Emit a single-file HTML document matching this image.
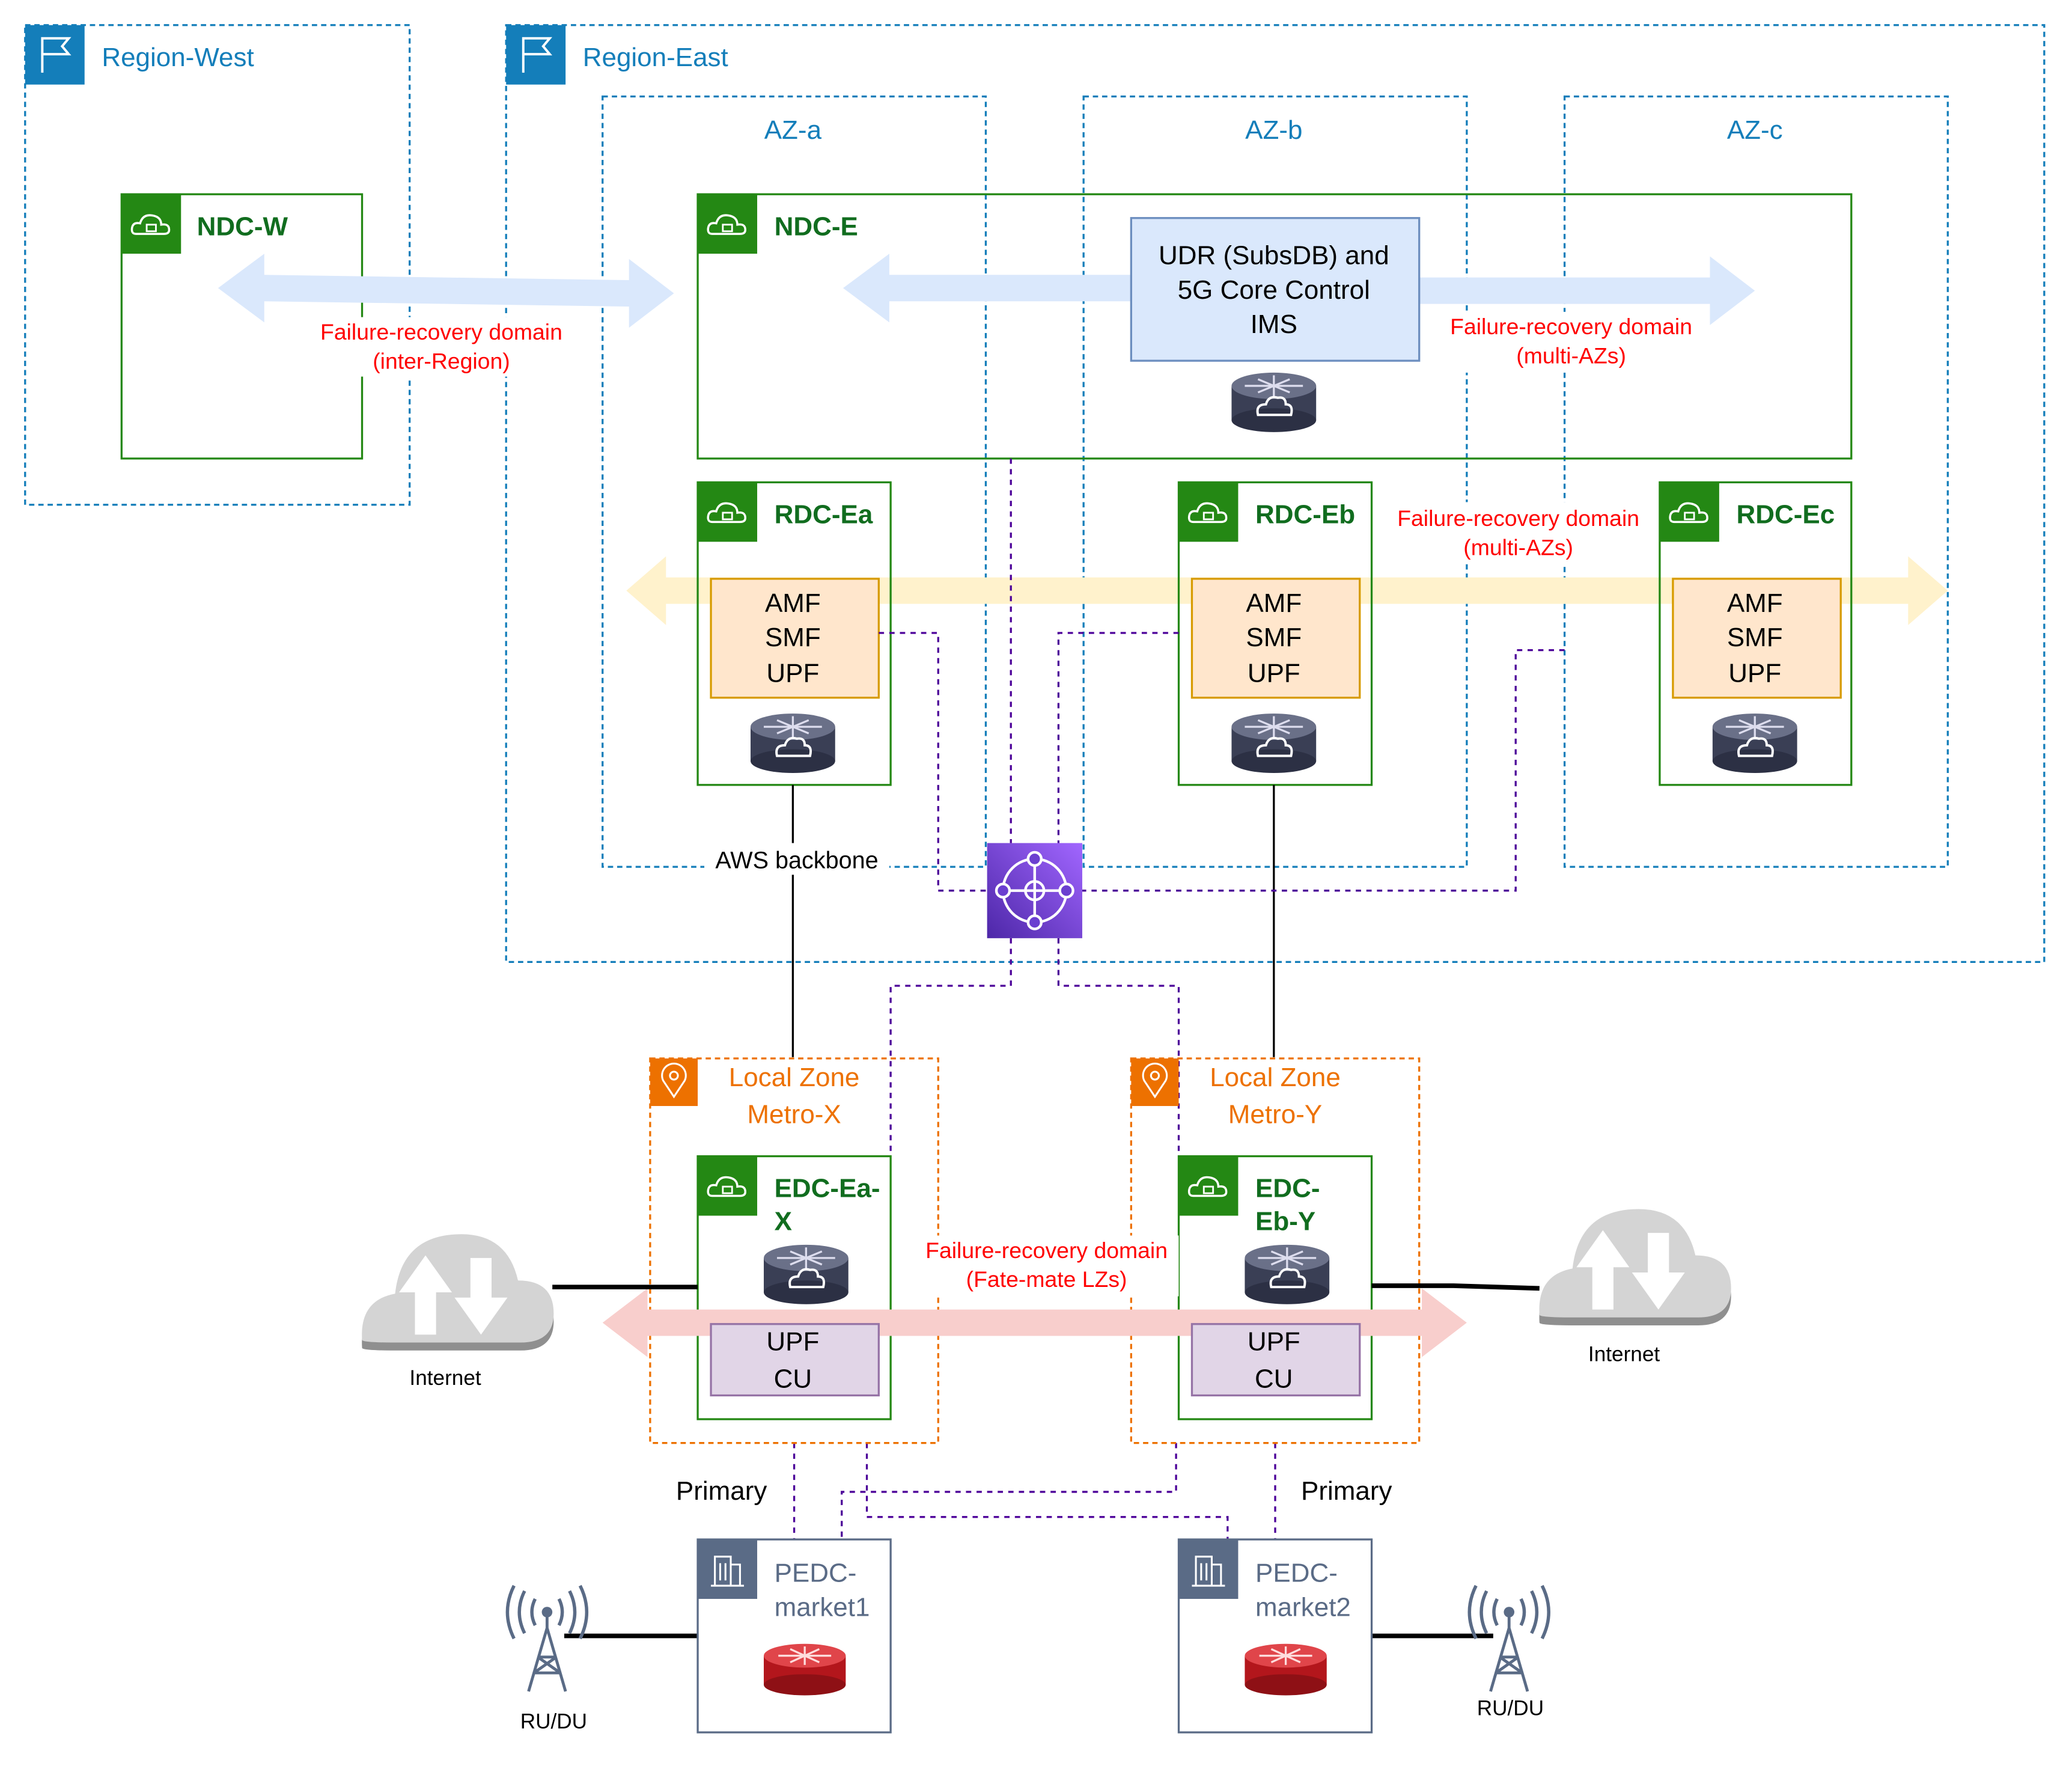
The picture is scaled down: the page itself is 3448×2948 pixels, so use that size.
<!DOCTYPE html>
<html><head><meta charset="utf-8"><style>
html,body{margin:0;padding:0;background:#fff}
svg{display:block}
text{font-family:"Liberation Sans",sans-serif}
</style></head><body>
<svg width="3448" height="2948" viewBox="0 0 1568 1341" preserveAspectRatio="none" xmlns="http://www.w3.org/2000/svg">
<defs>
<g id="router">
<rect x="-32" y="-8" width="64" height="26" fill="#3a3f55"/>
<ellipse cx="0" cy="18" rx="32" ry="9" fill="#2c3044"/>
<ellipse cx="0" cy="-8" rx="32" ry="10" fill="#6a7088"/>
<path d="M-22 -8 H22 M0 -16 V0 M-12 -13 L12 -3 M12 -13 L-12 -3" stroke="#dde" stroke-width="1.5"/>
<path d="M-12 14 Q-14 6 -6 6 Q-4 -1 3 1 Q9 0 9 6 Q15 6 13 14 Z" fill="none" stroke="#fff" stroke-width="1.8"/>
</g>
<g id="rrouter">
<rect x="-31" y="-7" width="62" height="22" fill="#b3161c"/>
<ellipse cx="0" cy="15" rx="31" ry="8" fill="#8e1015"/>
<ellipse cx="0" cy="-7" rx="31" ry="9" fill="#e0454a"/>
<path d="M-20 -7 H20 M0 -14 V0 M-11 -12 L11 -2 M11 -12 L-11 -2" stroke="#fdd" stroke-width="1.5"/>
</g>
<g id="cloudicon">
<rect width="45" height="45" fill="#248814"/>
<path d="M11 30 Q7 30 8 25 Q9 21 14 22 Q16 15 23 16 Q30 17 30 23 Q36 22 36 27 Q36 30 32 30 Z" fill="none" stroke="#fff" stroke-width="1.6"/>
<rect x="19" y="23" width="7" height="5" fill="none" stroke="#fff" stroke-width="1.3"/>
</g>
<g id="flag">
<rect width="45" height="45" fill="#147EBA"/>
<path d="M13 36 V10 H33 L28 16 L33 22 H13" fill="none" stroke="#fff" stroke-width="1.8"/>
</g>
<g id="icloud">
<path d="M0 90 Q-2 60 25 55 Q30 10 75 10 Q110 10 118 45 Q145 45 145 70 Q145 92 120 92 L25 92 Q0 92 0 90 Z" fill="#8f8f8f"/>
<path d="M0 84 Q-2 54 25 49 Q30 4 75 4 Q110 4 118 39 Q145 39 145 64 Q145 86 120 86 L25 86 Q0 86 0 84 Z" fill="#d4d4d4"/>
<path d="M48 20 L28 48 H40 V80 H56 V48 H68 Z M90 80 L110 52 H98 V22 H82 V52 H70 Z" fill="#fff"/>
</g>
<g id="tower">
<path d="M0 0 L-14 48 M0 0 L14 48 M-10 34 L10 34 M-7 22 L7 22 M-10 34 L7 22 M10 34 L-7 22 M0 0 V-10" stroke="#5a6b86" stroke-width="2.2" fill="none"/>
<circle cx="0" cy="-12" r="4" fill="#5a6b86"/>
<path d="M-9 -22 Q-14 -12 -9 -2 M9 -22 Q14 -12 9 -2 M-17 -28 Q-25 -12 -17 4 M17 -28 Q25 -12 17 4 M-25 -32 Q-35 -12 -25 8 M25 -32 Q35 -12 25 8" stroke="#5a6b86" stroke-width="2.5" fill="none"/>
</g>
</defs>

<rect x="19" y="19" width="291" height="363" fill="none" stroke="#147EBA" stroke-width="1.5" stroke-dasharray="4 3"/>
<use href="#flag" x="19" y="19"/>
<text x="77" y="50" font-size="20" fill="#147EBA">Region-West</text>
<rect x="383" y="19" width="1164" height="709" fill="none" stroke="#147EBA" stroke-width="1.5" stroke-dasharray="4 3"/>
<use href="#flag" x="383" y="19"/>
<text x="441" y="50" font-size="20" fill="#147EBA">Region-East</text>

<g fill="none" stroke="#147EBA" stroke-width="1.5" stroke-dasharray="4 3">
<rect x="456" y="73" width="290" height="583"/>
<rect x="820" y="73" width="290" height="583"/>
<rect x="1184" y="73" width="290" height="583"/>
</g>
<g font-size="20" fill="#147EBA" text-anchor="middle">
<text x="600" y="105">AZ-a</text><text x="964" y="105">AZ-b</text><text x="1328" y="105">AZ-c</text>
</g>

<path d="M474 447 L504 421 V437 H1444 V421 L1474 447 L1444 473 V457 H504 V473 Z" fill="#fff2cc"/>

<rect x="92" y="147" width="182" height="200" fill="none" stroke="#248814" stroke-width="1.5"/>
<use href="#cloudicon" x="92" y="147"/>
<text x="149" y="178" font-size="20" font-weight="bold" fill="#116D1F">NDC-W</text>

<rect x="528" y="147" width="873" height="200" fill="none" stroke="#248814" stroke-width="1.5"/>
<use href="#cloudicon" x="528" y="147"/>
<text x="586" y="178" font-size="20" font-weight="bold" fill="#116D1F">NDC-E</text>

<path d="M165 218 L200 192 V208 L476 212 V196 L510 222 L476 248 V232 L200 228 V244 Z" fill="#dae8fc"/>
<path d="M638 218 L673 192 V208 H856 V228 H673 V244 Z" fill="#dae8fc"/>
<path d="M1328 220 L1294 194 V210 H1074 V230 H1294 V246 Z" fill="#dae8fc"/>
<rect x="856" y="165" width="218" height="108" fill="#dae8fc" stroke="#6c8ebf" stroke-width="1.5"/>
<g font-size="20" text-anchor="middle" fill="#000">
<text x="964" y="200">UDR (SubsDB) and</text><text x="964" y="226">5G Core Control</text><text x="964" y="252">IMS</text>
</g>
<use href="#router" x="964" y="300"/>
<rect x="230" y="240" width="205" height="45" fill="#fff"/>
<rect x="1088" y="236" width="202" height="46" fill="#fff"/>
<g font-size="17" fill="#FF0000" text-anchor="middle">
<text x="334" y="257">Failure-recovery domain</text><text x="334" y="279">(inter-Region)</text>
<text x="1189" y="253">Failure-recovery domain</text><text x="1189" y="275">(multi-AZs)</text>
</g>

<g fill="none" stroke="#248814" stroke-width="1.5">
<rect x="528" y="365" width="146" height="229"/>
<rect x="892" y="365" width="146" height="229"/>
<rect x="1256" y="365" width="145" height="229"/>
</g>
<use href="#cloudicon" x="528" y="365"/><use href="#cloudicon" x="892" y="365"/><use href="#cloudicon" x="1256" y="365"/>
<g font-size="20" font-weight="bold" fill="#116D1F">
<text x="586" y="396">RDC-Ea</text><text x="950" y="396">RDC-Eb</text><text x="1314" y="396">RDC-Ec</text>
</g>
<rect x="1048" y="380" width="202" height="46" fill="#fff"/>
<g font-size="17" fill="#FF0000" text-anchor="middle">
<text x="1149" y="398">Failure-recovery domain</text><text x="1149" y="420">(multi-AZs)</text>
</g>
<g fill="#ffe6cc" stroke="#d79b00" stroke-width="1.5">
<rect x="538" y="438" width="127" height="90"/><rect x="902" y="438" width="127" height="90"/><rect x="1266" y="438" width="127" height="90"/>
</g>
<g font-size="20" text-anchor="middle">
<text x="600" y="463">AMF</text><text x="600" y="489">SMF</text><text x="600" y="516">UPF</text>
<text x="964" y="463">AMF</text><text x="964" y="489">SMF</text><text x="964" y="516">UPF</text>
<text x="1328" y="463">AMF</text><text x="1328" y="489">SMF</text><text x="1328" y="516">UPF</text>
</g>
<use href="#router" x="600" y="558"/><use href="#router" x="964" y="558"/><use href="#router" x="1328" y="558"/>

<path d="M600 594 V800 M964 594 V800" stroke="#000" stroke-width="1.5"/>
<rect x="533" y="638" width="140" height="24" fill="#fff"/>
<text x="603" y="657" font-size="18" text-anchor="middle">AWS backbone</text>

<g fill="none" stroke="#4C0099" stroke-width="1.5" stroke-dasharray="4 4">
<path d="M765 347 V638"/>
<path d="M665 479 H710 V674 H747"/>
<path d="M892 479 H801 V638"/>
<path d="M1184 492 H1147 V674 H819"/>
<path d="M765 710 V746 H674 V875"/>
<path d="M801 710 V746 H892 V875"/>
<path d="M601 1092 V1165"/>
<path d="M656 1092 V1148 H929 V1165"/>
<path d="M890 1092 V1129 H637 V1165"/>
<path d="M965 1092 V1165"/>
</g>

<defs><linearGradient id="tg" x1="0" y1="1" x2="1" y2="0"><stop offset="0" stop-color="#4d27a8"/><stop offset="1" stop-color="#a166ff"/></linearGradient></defs>
<rect x="747" y="638" width="72" height="72" fill="url(#tg)"/>
<g fill="none" stroke="#fff" stroke-width="2">
<circle cx="783" cy="674" r="24"/><circle cx="783" cy="674" r="7"/>
<path d="M759 674 H807 M783 650 V698"/>
</g>
<g fill="#6b3fd0" stroke="#fff" stroke-width="2">
<circle cx="759" cy="674" r="5"/><circle cx="807" cy="674" r="5"/><circle cx="783" cy="650" r="5"/><circle cx="783" cy="698" r="5"/>
</g>

<g fill="none" stroke="#ED7100" stroke-width="1.5" stroke-dasharray="4 3">
<rect x="492" y="801" width="218" height="291"/><rect x="856" y="801" width="218" height="291"/>
</g>
<rect x="492" y="801" width="36" height="36" fill="#ED7100"/><rect x="856" y="801" width="36" height="36" fill="#ED7100"/>
<g fill="none" stroke="#fff" stroke-width="1.4">
<path d="M510 830 L502 818 A9 9 0 1 1 518 818 Z"/><circle cx="510" cy="814" r="3"/>
<path d="M874 830 L866 818 A9 9 0 1 1 882 818 Z"/><circle cx="874" cy="814" r="3"/>
</g>
<g font-size="20" fill="#ED7100" text-anchor="middle">
<text x="601" y="822">Local Zone</text><text x="601" y="850">Metro-X</text>
<text x="965" y="822">Local Zone</text><text x="965" y="850">Metro-Y</text>
</g>

<rect x="528" y="875" width="146" height="199" fill="#fff" stroke="#248814" stroke-width="1.5"/>
<rect x="892" y="875" width="146" height="199" fill="#fff" stroke="#248814" stroke-width="1.5"/>
<use href="#cloudicon" x="528" y="875"/><use href="#cloudicon" x="892" y="875"/>
<g font-size="20" font-weight="bold" fill="#116D1F">
<text x="586" y="906">EDC-Ea-</text><text x="586" y="931">X</text>
<text x="950" y="906">EDC-</text><text x="950" y="931">Eb-Y</text>
</g>
<use href="#router" x="610" y="960"/><use href="#router" x="974" y="960"/>
<path d="M456 1001 L490 975 V991 H1076 V975 L1110 1001 L1076 1027 V1011 H490 V1027 Z" fill="#f8cecc"/>
<rect x="538" y="1002" width="127" height="54" fill="#e1d5e7" stroke="#9673a6" stroke-width="1.5"/>
<rect x="902" y="1002" width="127" height="54" fill="#e1d5e7" stroke="#9673a6" stroke-width="1.5"/>
<g font-size="20" text-anchor="middle">
<text x="600" y="1022">UPF</text><text x="600" y="1050">CU</text>
<text x="964" y="1022">UPF</text><text x="964" y="1050">CU</text>
</g>
<rect x="692" y="935" width="200" height="46" fill="#fff"/>
<g font-size="17" fill="#FF0000" text-anchor="middle">
<text x="792" y="952">Failure-recovery domain</text><text x="792" y="974">(Fate-mate LZs)</text>
</g>

<path d="M418 974 H528 M1038 973 H1100 L1165 975" stroke="#000" stroke-width="3.5" fill="none"/>
<use href="#icloud" x="274" y="930"/>
<use href="#icloud" x="1165" y="911"/>
<text x="337" y="1048" font-size="16" text-anchor="middle">Internet</text>
<text x="1229" y="1030" font-size="16" text-anchor="middle">Internet</text>

<text x="546" y="1135" font-size="20" text-anchor="middle">Primary</text>
<text x="1019" y="1135" font-size="20" text-anchor="middle">Primary</text>

<path d="M427 1238 H528 M1038 1238 H1130" stroke="#000" stroke-width="3.5"/>
<rect x="528" y="1165" width="146" height="146" fill="#fff" stroke="#5a6b86" stroke-width="1.5"/>
<rect x="892" y="1165" width="146" height="146" fill="#fff" stroke="#5a6b86" stroke-width="1.5"/>
<rect x="528" y="1165" width="45" height="45" fill="#5a6b86"/><rect x="892" y="1165" width="45" height="45" fill="#5a6b86"/>
<g fill="none" stroke="#fff" stroke-width="1.4">
<path d="M541 1200 V1178 H553 V1200 M553 1184 H560 V1200 M538 1200 H563 M545 1183 V1196 M549 1183 V1196"/>
<path d="M905 1200 V1178 H917 V1200 M917 1184 H924 V1200 M902 1200 H927 M909 1183 V1196 M913 1183 V1196"/>
</g>
<g font-size="20" fill="#5a6b86">
<text x="586" y="1197">PEDC-</text><text x="586" y="1223">market1</text>
<text x="950" y="1197">PEDC-</text><text x="950" y="1223">market2</text>
</g>
<use href="#rrouter" x="609" y="1260"/><use href="#rrouter" x="973" y="1260"/>
<use href="#tower" x="414" y="1232"/><use href="#tower" x="1142" y="1232"/>
<text x="419" y="1308" font-size="16" text-anchor="middle">RU/DU</text>
<text x="1143" y="1298" font-size="16" text-anchor="middle">RU/DU</text>
</svg>
</body></html>
